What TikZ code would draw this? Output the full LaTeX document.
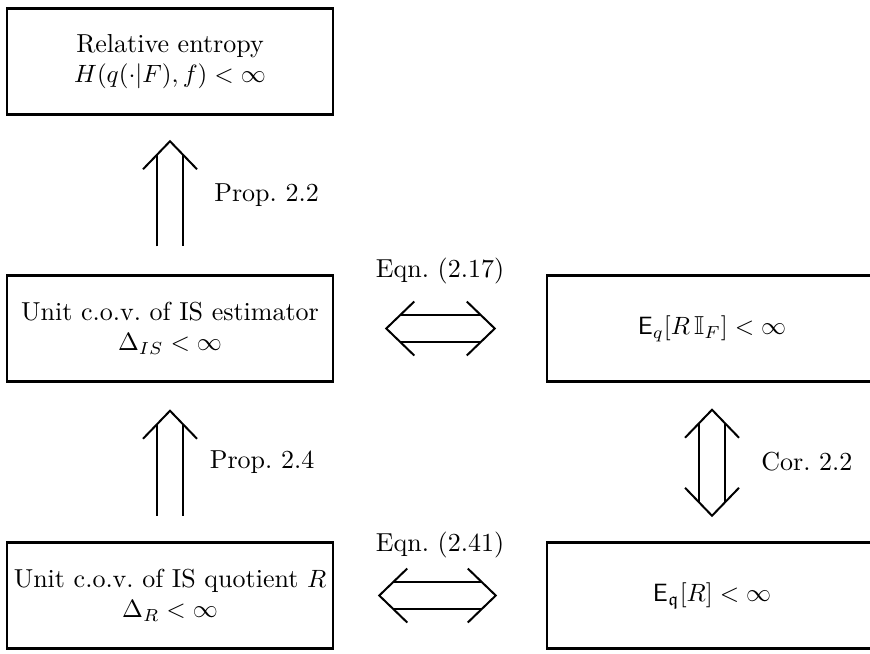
\documentclass[tikz,border=0pt]{standalone}
\usepackage{amsmath, amssymb}
\usepackage{tikz}
\tikzstyle{block} = [rectangle, minimum width=130.4pt, minimum height=42.4pt, inner xsep=2pt, text centered, align=center, draw=black, line width=1pt]
\tikzstyle{shaft} = [double, double distance=9.8pt, line width=0.8pt]
\tikzset{head/.pic={\draw [line width=0.8pt] (-27,28) -- (0,0) -- (27,28);}}

\begin{document}
\begin{tikzpicture}[x=0.4pt, y=-0.4pt, node distance=106.8pt, every node/.style={font=\fontsize{10.4}{12}\selectfont}]
\useasboundingbox (0,0) rectangle (870,653);
\node (rel) [block] at (170,61.5) {Relative entropy\\ $H(q(\cdot|F),f)<\infty$};
\node (isest) [block, below of=rel] {Unit c.o.v.\ of IS estimator\\ $\Delta_{IS}<\infty$};
\node (qr) [block, below of=isest] {Unit c.o.v.\ of IS quotient $R$\\ $\Delta_R<\infty$};
\node (mc) [block, right of=isest, node distance=216.8pt, minimum width=132pt] {$\mathsf{E}_q[R\,\mathbb{I}_F]<\infty$};
\node (qq) [block, right of=qr, node distance=216.8pt, minimum width=132pt] {$\mathsf{E}_{\mathfrak{q}}[R]<\infty$};
% implications
\draw [shaft, shorten <=11.2pt, shorten >=15.8pt] (isest) -- (rel) node (p22) [midway, right=14pt] {Prop.\ 2.2};
\pic at ([yshift=-10.2pt]rel.south) {head};
\draw [shaft, shorten <=10.2pt, shorten >=16.8pt] (qr) -- (isest) node (p24) [midway, right=12.2pt] {Prop.\ 2.4};
\pic at ([yshift=-11.2pt]isest.south) {head};
\draw [shaft, shorten <=16.4pt, shorten >=15.8pt] (mc) -- (qq) node (c22) [midway, right=16pt] {Cor.\ 2.2};
\pic at ([yshift=-10.8pt]mc.south) {head};
\pic [rotate=180] at ([yshift=10.2pt]qq.north) {head};
\draw [shaft, shorten <=26.4pt, shorten >=26pt] (isest) -- (mc) node (e217) [midway, yshift=23.2pt] {Eqn.\ (2.17)};
\pic [rotate=90] at ([xshift=20.8pt]isest.east) {head};
\pic [rotate=-90] at ([xshift=-20.4pt]mc.west) {head};
\draw [shaft, shorten <=23.6pt, shorten >=25.6pt] (qr) -- (qq) node (e241) [midway, yshift=20.4pt] {Eqn.\ (2.41)};
\pic [rotate=90] at ([xshift=18pt]qr.east) {head};
\pic [rotate=-90] at ([xshift=-20pt]qq.west) {head};
\end{tikzpicture}
\end{document}
